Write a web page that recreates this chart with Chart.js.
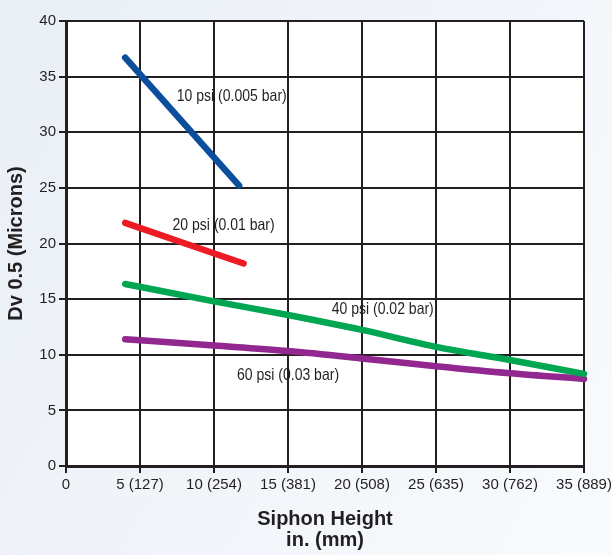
<!DOCTYPE html>
<html>
<head>
<meta charset="utf-8">
<script src="https://cdn.jsdelivr.net/npm/chart.js@4/dist/chart.umd.min.js"></script>
<style>
  html, body { margin: 0; padding: 0; }
  body {
    width: 612px; height: 555px; overflow: hidden;
    background: linear-gradient(120deg, #e9eff6 0%, #f0f4f9 45%, #f9fbfd 100%);
  }
  #wrap { position: relative; width: 612px; height: 555px; }
</style>
</head>
<body>
<div id="wrap"><canvas id="c" width="612" height="555"></canvas></div>
<script>
// ---- data ----
const xTickValues = [0, 5, 10, 15, 20, 25, 30, 35];
const xTickLabels = ['0', '5 (127)', '10 (254)', '15 (381)', '20 (508)', '25 (635)', '30 (762)', '35 (889)'];
const yTickValues = [0, 5, 10, 15, 20, 25, 30, 35, 40];

const seriesNames = ['10 psi (0.005 bar)', '20 psi (0.01 bar)', '40 psi (0.02 bar)', '60 psi (0.03 bar)'];

const heights10 = [4, 11.7];
const dv10 = [36.7, 25.2];
const heights20 = [4, 12];
const dv20 = [21.85, 18.2];
const heights40 = [4, 10, 15, 20, 25, 30, 35];
const dv40 = [16.36, 14.8, 13.57, 12.23, 10.71, 9.53, 8.28];
const heights60 = [4, 10, 15, 20, 25, 30, 35];
const dv60 = [11.4, 10.83, 10.33, 9.67, 8.96, 8.33, 7.83];

const toPts = (xs, ys) => xs.map((x, i) => ({ x: x, y: ys[i] }));

const INK = '#231f20';
const SANS = '"Liberation Sans", Arial, Helvetica, sans-serif';

// label anchors (data coordinates) for each series name
const labelAnchors = [
  { text: seriesNames[0], x: 11.2, y: 33.26 },
  { text: seriesNames[1], x: 10.65, y: 21.58 },
  { text: seriesNames[2], x: 21.4, y: 14.1 },
  { text: seriesNames[3], x: 15.0, y: 8.13 }
];

const plotBg = {
  id: 'plotBg',
  beforeDraw(chart) {
    const { ctx, chartArea: a } = chart;
    ctx.save();
    ctx.fillStyle = '#ffffff';
    ctx.fillRect(a.left, a.top, a.right - a.left, a.bottom - a.top);
    ctx.restore();
  }
};

// series name labels, drawn condensed
const seriesLabels = {
  id: 'seriesLabels',
  afterDatasetsDraw(chart) {
    const { ctx, scales } = chart;
    const sx = 0.85;
    ctx.save();
    ctx.font = '16.5px ' + SANS;
    ctx.fillStyle = INK;
    ctx.textAlign = 'center';
    ctx.textBaseline = 'middle';
    labelAnchors.forEach(l => {
      const px = scales.x.getPixelForValue(l.x);
      const py = scales.y.getPixelForValue(l.y);
      ctx.save();
      ctx.translate(px, py);
      ctx.scale(sx, 1);
      ctx.fillText(l.text, 0, 0);
      ctx.restore();
    });
    ctx.restore();
  }
};

const lineDs = (label, pts, color) => ({
  label: label,
  data: pts,
  borderColor: color,
  backgroundColor: color,
  borderWidth: 6.5,
  borderCapStyle: 'round',
  borderJoinStyle: 'round',
  pointRadius: 0,
  cubicInterpolationMode: 'monotone',
  fill: false,
  clip: false
});

new Chart(document.getElementById('c'), {
  type: 'line',
  data: {
    datasets: [
      lineDs(seriesNames[0], toPts(heights10, dv10), '#0b4f9c'),
      lineDs(seriesNames[1], toPts(heights20, dv20), '#ed1c24'),
      lineDs(seriesNames[2], toPts(heights40, dv40), '#00a651'),
      lineDs(seriesNames[3], toPts(heights60, dv60), '#92278f')
    ]
  },
  options: {
    responsive: false,
    animation: false,
    devicePixelRatio: 1,
    layout: { padding: { top: 21, right: 28, left: 0, bottom: 0 } },
    plugins: { legend: { display: false }, tooltip: { enabled: false } },
    scales: {
      x: {
        type: 'linear',
        min: 0, max: 35,
        afterBuildTicks(scale) { scale.ticks = xTickValues.map(v => ({ value: v })); },
        afterFit(scale) { scale.height = 89; scale.paddingLeft = 0; scale.paddingRight = 0; },
        ticks: {
          color: INK,
          font: { family: SANS, size: 15 },
          padding: 3,
          maxRotation: 0,
          autoSkip: false,
          callback: (v) => xTickLabels[xTickValues.indexOf(v)]
        },
        grid: { color: INK, lineWidth: 2, tickLength: 7, drawTicks: true },
        border: { color: INK, width: 3 },
        title: {
          display: true,
          text: ['Siphon Height', 'in. (mm)'],
          color: INK,
          font: { family: SANS, size: 20, weight: 'bold', lineHeight: 1.05 },
          padding: { top: 0, bottom: 4 }
        }
      },
      y: {
        type: 'linear',
        min: 0, max: 40,
        afterBuildTicks(scale) { scale.ticks = yTickValues.map(v => ({ value: v })); },
        afterFit(scale) { scale.width = 66; scale.paddingTop = 0; scale.paddingBottom = 0; },
        ticks: {
          color: INK,
          font: { family: SANS, size: 15 },
          padding: 3
        },
        grid: { color: INK, lineWidth: 2, tickLength: 7 },
        border: { color: INK, width: 3 },
        title: {
          display: true,
          text: 'Dv 0.5 (Microns)',
          color: INK,
          font: { family: SANS, size: 20, weight: 'bold', lineHeight: 1.2 },
          padding: { top: 4, bottom: 0 }
        }
      }
    }
  },
  plugins: [plotBg, seriesLabels]
});
</script>
</body>
</html>
